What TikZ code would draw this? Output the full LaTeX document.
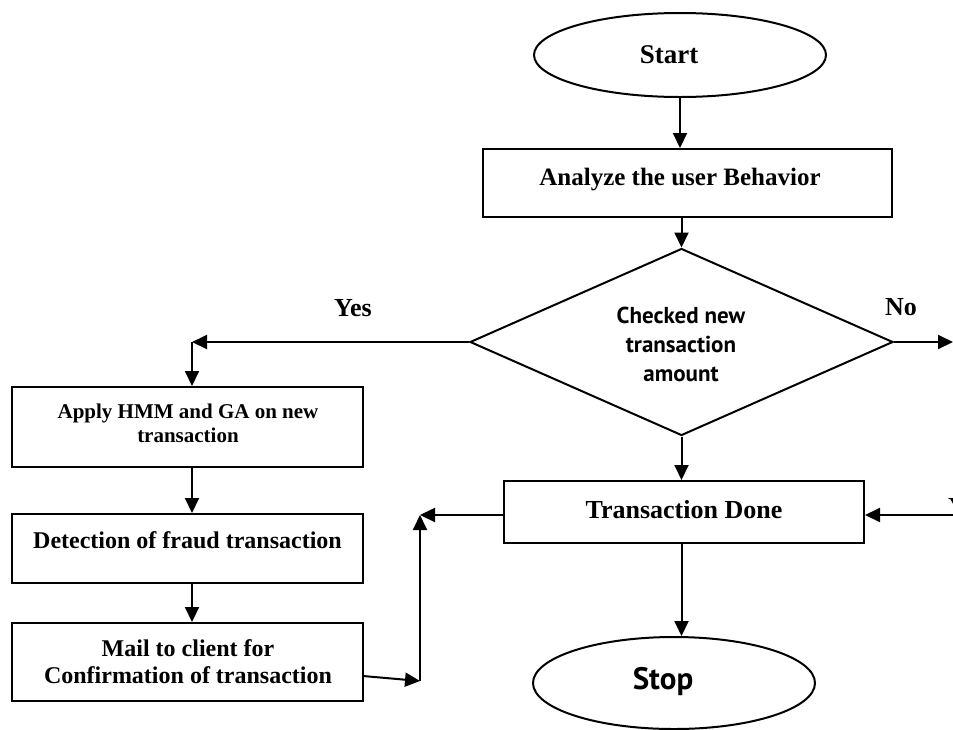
\documentclass[tikz,border=0pt]{standalone}
\usepackage{fontspec}
\setmainfont{Liberation Serif}
\newfontfamily\ptsans{PT Sans}
\usetikzlibrary{shapes.geometric,arrows.meta}
\begin{document}
\begin{tikzpicture}[x=1pt,y=-1pt,
  line width=2pt,
  arr/.style={-{Triangle[length=15pt,width=14pt]}},
  boxnode/.style={draw,rectangle,inner sep=0pt},
  ovalnode/.style={draw,ellipse,inner sep=0pt},
  lbl/.style={anchor=base,inner sep=0pt,font=\bfseries},
  dlbl/.style={anchor=base,inner sep=0pt,font=\ptsans\bfseries\fontsize{23}{26}\selectfont}]
\useasboundingbox (0,0) rectangle (953,729);
\fill[white] (0,0) rectangle (953,729);

% shapes
\node[ovalnode,minimum width=292pt,minimum height=84pt] (start) at (680,55) {};
\node[boxnode,minimum width=409pt,minimum height=68pt] (analyze) at (687.5,183) {};
\node[draw,diamond,inner sep=0pt,minimum width=423pt,minimum height=187pt] (dec) at (681.5,342) {};
\node[boxnode,minimum width=351pt,minimum height=80pt] (apply) at (187.5,427) {};
\node[boxnode,minimum width=351pt,minimum height=69pt] (detect) at (187.5,548.5) {};
\node[boxnode,minimum width=351pt,minimum height=78pt] (mail) at (187.5,662) {};
\node[boxnode,minimum width=360pt,minimum height=62pt] (done) at (684,512) {};
\node[ovalnode,minimum width=282pt,minimum height=92pt] (stop) at (674,683) {};

% texts
\node[lbl,font=\bfseries\fontsize{27}{30}\selectfont] (tstart) at (669,63) {Start};
\node[lbl,font=\bfseries\fontsize{25}{30}\selectfont] (tanalyze) at (680,185) {Analyze the user Behavior};
\node[lbl,font=\bfseries\fontsize{26}{30}\selectfont] (tyes) at (353,316) {Yes};
\node[lbl,font=\bfseries\fontsize{26}{30}\selectfont] (tno) at (901,315) {No};
\node[dlbl] (tdec1) at (681,323) {Checked new};
\node[dlbl] (tdec2) at (681,352) {transaction};
\node[dlbl] (tdec3) at (681,381) {amount};
\node[lbl,font=\bfseries\fontsize{21}{24}\selectfont] (tapply1) at (188,418) {Apply HMM and GA on new};
\node[lbl,font=\bfseries\fontsize{21}{24}\selectfont] (tapply2) at (188,442) {transaction};
\node[lbl,font=\bfseries\fontsize{24}{28}\selectfont] (tdetect) at (187.5,548) {Detection of fraud transaction};
\node[lbl,font=\bfseries\fontsize{24}{28}\selectfont] (tmail1) at (188,656) {Mail to client for};
\node[lbl,font=\bfseries\fontsize{24}{28}\selectfont] (tmail2) at (188,683) {Confirmation of transaction};
\node[lbl,font=\bfseries\fontsize{26}{30}\selectfont] (tdone) at (684,518) {Transaction Done};
\node[lbl,font=\ptsans\bfseries\fontsize{31}{34}\selectfont] (tstop) at (663,689) {Stop};
\node[lbl,anchor=base west,font=\bfseries\fontsize{26}{30}\selectfont] (tyes2) at (947,515) {Yes};

% free ends / bends
\coordinate (yesc) at (192,342);
\coordinate (noend) at (953,342);
\coordinate (mo) at (363,676);
\coordinate (j1) at (420,681);
\coordinate (j2) at (420,515);
\coordinate (yesr) at (953,515);

% connectors
\draw[arr] (start.south) -- (start.south |- analyze.north);
\draw[arr] (dec.north |- analyze.south) -- (dec.north);
\draw[arr] (dec.west) -- (yesc);
\draw[arr] (yesc) -- (yesc |- apply.north);
\draw[arr] (dec.east) -- (noend);
\draw[arr] (dec.south) -- (dec.south |- done.north);
\draw[arr] (yesc |- apply.south) -- (yesc |- detect.north);
\draw[arr] (yesc |- detect.south) -- (yesc |- mail.north);
\draw[arr] (mo) -- (j1);
\draw[arr] (j1) -- (j2);
\draw[arr] (done.west |- j2) -- (j2);
\draw[arr] (dec.south |- done.south) -- (dec.south |- stop.north);
\draw[arr] (yesr) -- (done.east |- yesr);
\end{tikzpicture}
\end{document}
